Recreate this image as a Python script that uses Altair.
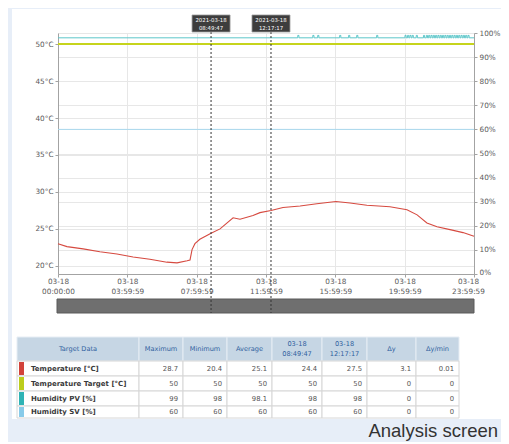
import altair as alt
import pandas as pd

DAY = "2021-03-18"

# ---------------- data ----------------
temp_times = ["00:00:00", "00:31:00", "01:27:00", "02:25:00", "03:24:00", "04:20:00",
              "05:18:00", "06:17:00", "06:52:00", "07:27:00", "07:37:00", "07:44:00",
              "07:54:00", "08:11:00", "08:49:47", "09:21:00", "10:06:00", "10:30:00",
              "11:15:00", "11:39:00", "12:17:17", "12:59:00", "13:58:00", "14:56:00",
              "16:02:00", "16:51:00", "17:49:00", "19:09:00", "20:08:00", "20:43:00",
              "21:17:00", "21:52:00", "22:37:00", "23:22:00", "23:59:59"]
temp_values = [23.0, 22.6, 22.3, 21.9, 21.6, 21.2,
               20.9, 20.5, 20.4, 20.7, 20.8, 22.2,
               23.0, 23.6, 24.4, 25.0, 26.5, 26.3,
               26.8, 27.2, 27.5, 27.9, 28.1, 28.4,
               28.7, 28.5, 28.2, 28.0, 27.6, 26.9,
               25.8, 25.3, 24.9, 24.5, 24.0]

pv_times = ["00:00:00",
            "13:50:00", "13:54:00", "14:42:00", "14:46:00", "14:59:00", "15:03:00",
            "16:15:00", "16:19:00", "16:46:00", "16:50:00", "17:14:00", "17:18:00",
            "18:23:00", "18:27:00",
            "20:01:00", "20:05:00", "20:10:00", "20:14:00", "20:18:00", "20:22:00",
            "20:26:00", "20:30:00", "20:40:00", "20:44:00",
            "21:05:00", "21:09:00", "21:15:00", "21:19:00", "21:23:00", "21:27:00",
            "21:31:00", "21:35:00", "21:39:00", "21:43:00", "21:47:00", "21:51:00",
            "21:55:00", "21:59:00", "22:03:00", "22:07:00", "22:11:00", "22:15:00",
            "22:19:00", "22:23:00", "22:27:00", "22:31:00", "22:35:00", "22:39:00",
            "22:43:00", "22:47:00", "22:51:00", "22:55:00", "22:59:00", "23:03:00",
            "23:07:00", "23:11:00", "23:15:00", "23:19:00", "23:23:00", "23:27:00",
            "23:31:00", "23:35:00", "23:39:00", "23:43:00",
            "23:59:59"]
pv_values = [98,
             99, 98, 99, 98, 99, 98,
             99, 98, 99, 98, 99, 98,
             99, 98,
             99, 98, 99, 98, 99, 98,
             99, 98, 99, 98,
             99, 98, 99, 98, 99, 98,
             99, 98, 99, 98, 99, 98,
             99, 98, 99, 98, 99, 98,
             99, 98, 99, 98, 99, 98,
             99, 98, 99, 98, 99, 98,
             99, 98, 99, 98, 99, 98,
             99, 98, 99, 98,
             98]

target_times = ["00:00:00", "23:59:59"]
target_values = [50, 50]
sv_times = ["00:00:00", "23:59:59"]
sv_values = [60, 60]

cursor_times = ["08:49:47", "12:17:17"]

x_tick_times = ["00:00:00", "03:59:59", "07:59:59", "11:59:59",
                "15:59:59", "19:59:59", "23:59:59"]
temp_ticks = [20, 25, 30, 35, 40, 45, 50]
hum_ticks = [0, 10, 20, 30, 40, 50, 60, 70, 80, 90, 100]

series_names = ["Temperature [°C]", "Temperature Target [°C]",
                "Humidity PV [%]", "Humidity SV [%]"]
series_colors = ["#d2423a", "#bccd1c", "#2fb3b5", "#88cbe9"]
col_headers = ["Target Data", "Maximum", "Minimum", "Average",
               "03-18\n08:49:47", "03-18\n12:17:17", "Δy", "Δy/min"]
col_maximum = ["28.7", "50", "99", "60"]
col_minimum = ["20.4", "50", "98", "60"]
col_average = ["25.1", "50", "98.1", "60"]
col_cursor1 = ["24.4", "50", "98", "60"]
col_cursor2 = ["27.5", "50", "98", "60"]
col_dy = ["3.1", "0", "0", "0"]
col_dymin = ["0.01", "0", "0", "0"]
footer_text = "Analysis screen"

# ---------------- layout (page pixels) ----------------
PX0, PX1, PY0, PY1 = 58, 474, 33, 274
W, H = PX1 - PX0, PY1 - PY0
CANVAS_W, CANVAS_H = 493, 434
col_edges = [17, 139, 183, 227, 272, 322, 367, 416, 459]
row_edges = [337, 361, 376, 391, 406, 418]
row_centers = [368.5, 383.5, 398.5, 412]


def vx(p):
    return p - PX0


def vy(p):
    return p - PY0


def ts(t):
    return DAY + "T" + t


def dtm(t):
    h, m, s = [int(v) for v in t.split(":")]
    return alt.DateTime(year=2021, month=3, date=18, hours=h, minutes=m, seconds=s)


time_scale = alt.Scale(domain=[dtm("00:00:00"), dtm("23:59:59")])
temp_scale = alt.Scale(domain=[18.9, 51.5], nice=False, zero=False)
hum_scale = alt.Scale(domain=[0, 100], nice=False, zero=False)
pgx = alt.Scale(domain=[PX0, PX1], nice=False, zero=False)
pgy = alt.Scale(domain=[PY0, PY1], nice=False, zero=False, reverse=True)

AX = dict(domainColor="#a3a3a3", tickColor="#a3a3a3", tickSize=3,
          labelFont="DejaVu Sans", labelFontSize=7.3, labelColor="#5a5a5a",
          gridColor="#e7e7e7", title=None, labelOverlap=False, labelBound=False,
          labelFlush=False)

x_axis = alt.Axis(values=[dtm(t) for t in x_tick_times],
                  labelExpr="[timeFormat(datum.value, '%m-%d'), timeFormat(datum.value, '%H:%M:%S')]",
                  labelOffset={"condition": {"test": "hours(datum.value) == 23", "value": -6},
                               "value": 0},
                  grid=True, labelBaseline="middle", labelPadding=4, labelLineHeight=10,
                  **AX)
left_axis = alt.Axis(orient="left", values=temp_ticks, labelExpr="datum.value + '°C'",
                     grid=True, labelPadding=2, **AX)
right_axis = alt.Axis(orient="right", values=hum_ticks, labelExpr="datum.value + '%'",
                      labelOffset={"condition": {"test": "datum.value == 0", "value": -2},
                                   "value": 0},
                      grid=True, labelPadding=2, **AX)

temp_df = pd.DataFrame({"t": [ts(t) for t in temp_times], "v": temp_values})
target_df = pd.DataFrame({"t": [ts(t) for t in target_times], "v": target_values})
pv_df = pd.DataFrame({"t": [ts(t) for t in pv_times], "v": pv_values})
sv_df = pd.DataFrame({"t": [ts(t) for t in sv_times], "v": sv_values})
cur_df = pd.DataFrame({"t": [ts(t) for t in cursor_times],
                       "label": [DAY + "\n" + t for t in cursor_times]})

# frame (light blue outside the white panel)
page_bottom = 8 + CANVAS_H
frame_df = pd.DataFrame({"x0": [8, 8, 8], "x1": [12, 501, 501],
                         "y0": [8, 8, 419], "y1": [page_bottom, 9, page_bottom]})
frame = alt.Chart(frame_df).mark_rect(color="#e7eef8").encode(
    x=alt.X("x0:Q", scale=pgx, axis=None), x2="x1:Q",
    y=alt.Y("y0:Q", scale=pgy, axis=None), y2="y1:Q")

sv_line = alt.Chart(sv_df).mark_line(color="#a9d8ee", strokeWidth=1).encode(
    x=alt.X("t:T", scale=time_scale, axis=None),
    y=alt.Y("v:Q", scale=hum_scale, axis=right_axis))
pv_line = alt.Chart(pv_df).mark_line(color="#5cc6c9", strokeWidth=1,
                                     interpolate="step-after").encode(
    x=alt.X("t:T", scale=time_scale, axis=None),
    y=alt.Y("v:Q", scale=hum_scale, axis=None))
target_line = alt.Chart(target_df).mark_line(color="#c6d41c", strokeWidth=2).encode(
    x=alt.X("t:T", scale=time_scale, axis=None),
    y=alt.Y("v:Q", scale=temp_scale, axis=None))
temp_line = alt.Chart(temp_df).mark_line(color="#d64a40", strokeWidth=1.1).encode(
    x=alt.X("t:T", scale=time_scale, axis=x_axis),
    y=alt.Y("v:Q", scale=temp_scale, axis=left_axis))

scroll = alt.Chart(pd.DataFrame({"a": [0]})).mark_rect(
    fill="#6f6f6f", stroke="#5a5a5a", strokeWidth=1).encode(
    x=alt.value(vx(57)), x2=alt.value(vx(474)),
    y=alt.value(vy(299)), y2=alt.value(vy(313)))

cur_rule = alt.Chart(cur_df).mark_rule(color="#333333", strokeWidth=1,
                                       strokeDash=[2, 2]).encode(
    x=alt.X("t:T", scale=time_scale, axis=None),
    y=alt.value(vy(32)), y2=alt.value(vy(313)))
BOX = "M-1,-0.447L1,-0.447L1,0.447L-1,0.447Z"
cur_box = alt.Chart(cur_df).mark_point(shape=BOX, size=38 * 38, filled=True,
                                       fill="#3d3d3d", stroke="#9a9a9a",
                                       strokeWidth=0.8, opacity=1).encode(
    x=alt.X("t:T", scale=time_scale, axis=None),
    y=alt.value(vy(23.5)))
cur_text = alt.Chart(cur_df).mark_text(color="white", font="DejaVu Sans", fontSize=5.4,
                                       lineBreak="\n", lineHeight=8,
                                       baseline="middle", align="center").encode(
    x=alt.X("t:T", scale=time_scale, axis=None),
    y=alt.value(vy(20)), text="label:N")

# table
cells = []
for i in range(8):
    cells.append({"x0": col_edges[i], "x1": col_edges[i + 1], "y0": row_edges[0],
                  "y1": row_edges[1], "fill": "#c6d6e4", "stroke": "#e6edf4"})
for r in range(4):
    for i in range(8):
        cells.append({"x0": col_edges[i], "x1": col_edges[i + 1], "y0": row_edges[r + 1],
                      "y1": row_edges[r + 2], "fill": "#ffffff", "stroke": "#d6d6d6"})
cells_df = pd.DataFrame(cells)
table_cells = alt.Chart(cells_df).mark_rect(strokeWidth=1).encode(
    x=alt.X("x0:Q", scale=pgx, axis=None), x2="x1:Q",
    y=alt.Y("y0:Q", scale=pgy, axis=None), y2="y1:Q",
    fill=alt.Fill("fill:N", scale=None), stroke=alt.Stroke("stroke:N", scale=None))

sw_df = pd.DataFrame({"x0": [19] * 4, "x1": [24] * 4,
                      "y0": [row_edges[r + 1] + 1 for r in range(4)],
                      "y1": [row_edges[r + 2] - 1 for r in range(4)],
                      "c": series_colors})
swatches = alt.Chart(sw_df).mark_rect().encode(
    x=alt.X("x0:Q", scale=pgx, axis=None), x2="x1:Q",
    y=alt.Y("y0:Q", scale=pgy, axis=None), y2="y1:Q",
    fill=alt.Fill("c:N", scale=None))

head_df = pd.DataFrame({"x": [(col_edges[i] + col_edges[i + 1]) / 2 for i in range(8)],
                        "y": [344 if "\n" in h else 349 for h in col_headers],
                        "text": col_headers})
head_text = alt.Chart(head_df).mark_text(color="#2f5f9e", font="DejaVu Sans", fontSize=6.6,
                                         lineBreak="\n", lineHeight=9.5, align="center",
                                         baseline="middle").encode(
    x=alt.X("x:Q", scale=pgx, axis=None), y=alt.Y("y:Q", scale=pgy, axis=None),
    text="text:N")

name_df = pd.DataFrame({"x": [31] * 4, "y": row_centers, "text": series_names})
name_text = alt.Chart(name_df).mark_text(color="#3a3a3a", font="DejaVu Sans", fontSize=7,
                                         fontWeight="bold", align="left",
                                         baseline="middle").encode(
    x=alt.X("x:Q", scale=pgx, axis=None), y=alt.Y("y:Q", scale=pgy, axis=None),
    text="text:N")

value_cols = [col_maximum, col_minimum, col_average, col_cursor1, col_cursor2,
              col_dy, col_dymin]
vals = []
for ci, col in enumerate(value_cols):
    for r, v in enumerate(col):
        vals.append({"x": col_edges[ci + 2] - 5, "y": row_centers[r], "text": v})
val_df = pd.DataFrame(vals)
val_text = alt.Chart(val_df).mark_text(color="#555555", font="DejaVu Sans", fontSize=6.8,
                                       align="right", baseline="middle").encode(
    x=alt.X("x:Q", scale=pgx, axis=None), y=alt.Y("y:Q", scale=pgy, axis=None),
    text="text:N")

footer = alt.Chart(pd.DataFrame({"text": [footer_text]})).mark_text(
    color="#333333", font="Liberation Sans", fontSize=18.5, align="right",
    baseline="alphabetic").encode(
    x=alt.value(vx(498)), y=alt.value(vy(437)), text="text:N")

chart = alt.layer(
    frame, temp_line, sv_line, pv_line, target_line,
    scroll, cur_rule, cur_box, cur_text,
    table_cells, swatches, head_text, name_text, val_text, footer
).resolve_scale(x="independent", y="independent").properties(
    width=W, height=H,
    autosize=alt.AutoSizeParams(type="none"),
    padding={"left": 50, "top": 25, "right": CANVAS_W - 50 - W,
             "bottom": CANVAS_H - 25 - H},
    background="white",
).configure_view(strokeWidth=0)

chart.save("out.html", embed_options={"renderer": "svg", "actions": False})
